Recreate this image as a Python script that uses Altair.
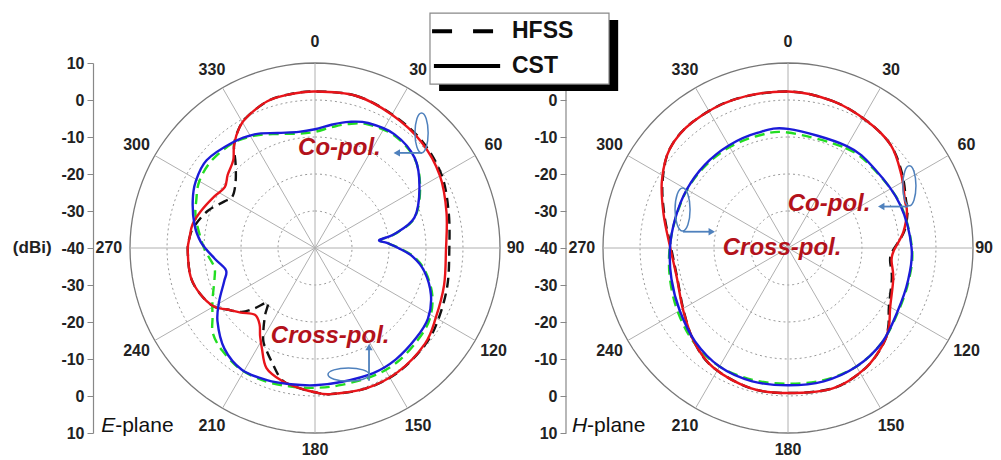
import altair as alt
import pandas as pd

FONT = "Liberation Sans"

# ---------------- E-plane (angle in degrees, gain in dBi) ----------------
e_hfss_co_ang = [0, 15, 30, 45, 60, 75, 91, 106, 120, 131, 146, 160, 174, 180, 187, 194, 201, 205, 209, 213, 217, 221, 225, 229, 235, 240, 248, 257, 269, 275, 280, 289, 297, 302, 310, 317, 322, 328, 333, 342, 350]
e_hfss_co_db = [2.3, 2.6, 1.7, 0.9, -0.5, -2.6, -3.7, -2.8, -1.5, -0.4, 0.4, 0.4, -0.3, -1.0, -2.0, -3.2, -7.2, -9.2, -11.2, -14.5, -17.7, -20.5, -17.0, -13.7, -11.0, -8.4, -6.6, -5.5, -5.6, -6.0, -6.8, -9.3, -12.4, -13.7, -12.0, -8.5, -4.5, -1.5, 0.0, 1.7, 2.1]

e_cst_co_ang = [0, 15, 30, 45, 60, 75, 91, 106, 120, 131, 146, 160, 174, 180, 187, 194, 202, 208, 212, 216, 222, 229, 235, 240, 248, 257, 269, 275, 281, 288, 297, 304, 310, 317, 322, 328, 333, 342, 350]
e_cst_co_db = [2.3, 2.6, 1.6, 0.6, -1.0, -3.2, -4.6, -3.7, -2.3, -0.6, 0.3, 0.4, -0.3, -1.0, -2.0, -3.0, -5.0, -9.4, -12.0, -14.5, -15.7, -13.4, -11.0, -8.4, -6.6, -5.5, -5.6, -6.0, -6.3, -7.6, -9.4, -10.6, -9.2, -7.6, -4.5, -1.5, 0.0, 1.7, 2.1]

e_hfss_x_ang = [0, 8, 15, 23, 35, 48, 60, 73, 80, 83, 86, 90, 95, 102, 112, 122, 132, 144, 155, 169, 180, 190, 200, 211, 222, 230, 236, 243, 253, 259, 266, 272, 284, 292, 300, 310, 322, 332, 342, 352]
e_hfss_x_db = [-8.6, -7.0, -5.3, -3.7, -2.8, -3.8, -7.2, -11.8, -18.0, -22.3, -20.5, -17.3, -13.2, -9.5, -5.8, -3.5, -2.7, -2.0, -2.0, -2.3, -2.2, -2.0, -1.6, -1.5, -2.6, -4.0, -6.6, -8.9, -11.6, -12.3, -11.0, -9.6, -6.8, -5.4, -3.9, -3.4, -4.0, -5.6, -7.6, -8.8]

e_cst_x_ang = [0, 8, 15, 23, 35, 48, 60, 73, 80, 83, 86, 90, 95, 102, 112, 122, 132, 144, 155, 169, 180, 190, 200, 211, 222, 233, 241, 250, 256, 264, 273, 281, 291, 299, 309, 322, 332, 342, 352]
e_cst_x_db = [-7.9, -6.3, -4.7, -3.3, -2.5, -3.7, -7.4, -11.9, -18.2, -22.5, -20.5, -17.5, -13.5, -9.8, -6.2, -4.0, -3.4, -2.8, -2.7, -3.1, -2.9, -2.6, -2.0, -1.6, -3.4, -7.0, -10.4, -13.9, -15.2, -12.7, -9.1, -6.8, -4.6, -3.1, -2.3, -3.8, -5.2, -7.3, -8.3]

# ---------------- H-plane ----------------
h_co_ang = [0, 17, 32, 45, 57, 68, 73, 82, 92, 97, 106, 120, 128, 135, 147, 162, 180, 195, 212, 225, 239, 255, 270, 285, 298, 310, 323, 340]
h_hfss_co_db = [2.3, 1.5, 0.4, -0.7, -3.2, -5.6, -6.2, -8.3, -11.8, -12.2, -10.8, -8.5, -5.6, -3.5, -1.4, -0.2, -0.8, -0.8, -1.9, -4.1, -7.1, -9.0, -8.4, -5.4, -1.6, 1.7, 2.7, 2.7]
h_cst_co_db = [2.3, 1.5, 0.4, -0.7, -3.5, -5.9, -6.4, -8.5, -11.5, -11.8, -10.4, -8.1, -5.4, -3.5, -1.4, -0.2, -0.8, -0.8, -1.9, -4.1, -7.0, -8.9, -8.2, -5.2, -1.4, 1.7, 2.7, 2.7]

h_x_ang = [0, 30, 48, 69, 90, 105, 120, 135, 150, 165, 180, 195, 210, 225, 240, 255, 270, 285, 300, 315, 330, 345]
h_hfss_x_db = [-8.8, -8.8, -8.5, -7.4, -6.5, -6.2, -5.6, -4.0, -3.0, -3.0, -3.3, -3.1, -3.0, -4.0, -5.6, -7.0, -8.0, -8.6, -8.5, -8.5, -8.5, -8.6]
h_cst_x_db = [-7.8, -8.2, -8.3, -7.5, -6.6, -6.4, -5.8, -4.0, -3.0, -2.7, -2.9, -2.7, -3.0, -4.4, -6.2, -7.4, -8.1, -8.5, -8.4, -8.2, -8.0, -7.8]

# ---------------- axes ----------------
angle_ticks = [0, 30, 60, 90, 120, 150, 180, 210, 240, 270, 300, 330]
spoke_angles = [0, 30, 60, 90, 120, 150]
ring_levels = [-30, -20, -10, 0]
outer_level = 10
r_min = -40
radial_ticks = [-50, -40, -30, -20, -10, 0, 10, 20, 30, 40, 50]

RED = "#e8141a"
BLUE = "#1b1bd8"
GREEN = "#22dd22"
BLACK = "#111111"
ANN = "#b3121b"
ARROW = "#4f81bd"
AXIS_GREY = "#888"

SIZE = 370
RMAX = outer_level - r_min  # 50
LABEL_R = 55.7
LABEL_R_180 = 54.6
AXIS_OFFSET = 37

xscale = alt.Scale(domain=[-RMAX, RMAX], nice=False, zero=False)
yscale = alt.Scale(domain=[-RMAX, RMAX], nice=False, zero=False)


def make_axis(values, domain=True):
    return alt.Axis(values=values, labelExpr="abs(datum.value) - 40", offset=AXIS_OFFSET,
                    tickSize=6, tickColor=AXIS_GREY, domain=domain, domainColor=AXIS_GREY,
                    domainWidth=1.2, labelFont=FONT, labelFontSize=16, labelFontWeight="bold",
                    labelColor="#222", labelPadding=3, grid=False, title=None)


left_axis = make_axis(radial_ticks)
# right panel: the top of its axis lies under the legend box, so its line is a mark
right_axis = make_axis(radial_ticks[:-1], domain=False)
CUR = {"axis": left_axis}


def X(f="x"):
    return alt.X(f"{f}:Q", scale=xscale, axis=None)


def Y(f="y"):
    return alt.Y(f"{f}:Q", scale=yscale, axis=CUR["axis"])


polar = dict(
    x=f"(datum.db - ({r_min})) * sin(datum.ang * PI / 180)",
    y=f"(datum.db - ({r_min})) * cos(datum.ang * PI / 180)",
)


def curve(ang, db, color, dash=None):
    df = pd.DataFrame({"ang": ang, "db": db})
    kw = dict(color=color, strokeWidth=2.4, interpolate="cardinal-closed")
    if dash:
        kw["strokeDash"] = dash
    return alt.Chart(df).transform_calculate(**polar).mark_line(**kw).encode(
        x=X(), y=Y(), order="ang:Q")


def grid_layers(r90):
    rows = [(lv, a) for lv in ring_levels + [outer_level] for a in range(0, 361, 3)]
    rings = pd.DataFrame(rows, columns=["db", "ang"])
    inner = alt.Chart(rings[rings.db != outer_level]).transform_calculate(**polar).mark_line(
        color="#999", strokeWidth=1, strokeDash=[2, 3]).encode(
        x=X(), y=Y(), detail="db:N", order="ang:Q")
    outer = alt.Chart(rings[rings.db == outer_level]).transform_calculate(**polar).mark_line(
        color="#777", strokeWidth=1.3).encode(x=X(), y=Y(), order="ang:Q")
    spokes = alt.Chart(pd.DataFrame({"ang": spoke_angles})).transform_calculate(
        x=f"{RMAX} * sin(datum.ang * PI / 180)",
        y=f"{RMAX} * cos(datum.ang * PI / 180)",
        x2=f"-{RMAX} * sin(datum.ang * PI / 180)",
        y2=f"-{RMAX} * cos(datum.ang * PI / 180)",
    ).mark_rule(color="#b0b0b0", strokeWidth=1).encode(
        x=X(), y=Y(), x2="x2:Q", y2="y2:Q")
    labels = alt.Chart(pd.DataFrame({"ang": angle_ticks})).transform_calculate(
        lr=f"datum.ang == 90 ? {r90} : (datum.ang == 180 ? {LABEL_R_180} : {LABEL_R})",
        x="datum.lr * sin(datum.ang * PI / 180)",
        y="datum.lr * cos(datum.ang * PI / 180)",
        t="toString(datum.ang)",
    ).mark_text(font=FONT, fontSize=16, fontWeight="bold", color="#222",
                align="center", baseline="middle").encode(x=X(), y=Y(), text="t:N")
    return [inner, outer, spokes, labels]


def text_at(x, y, s, **kw):
    base = dict(font=FONT, baseline="middle")
    base.update(kw)
    return alt.Chart(pd.DataFrame({"x": [x], "y": [y], "t": [s]})).mark_text(**base).encode(
        x=X(), y=Y(), text="t:N")


def ellipse(x, y, size, vertical, ratio):
    if vertical:
        path = f"M0,-1 A{ratio},1 0 1,1 0,1 A{ratio},1 0 1,1 0,-1 Z"
    else:
        path = f"M-1,0 A1,{ratio} 0 1,1 1,0 A1,{ratio} 0 1,1 -1,0 Z"
    return alt.Chart(pd.DataFrame({"x": [x], "y": [y]})).mark_point(
        shape=path, size=size, filled=False, stroke=ARROW, strokeWidth=1.5, opacity=1).encode(
        x=X(), y=Y())


def arrow(x1, y1, x2, y2, head):
    shaft = alt.Chart(pd.DataFrame({"x": [x1], "y": [y1], "x2": [x2], "y2": [y2]})).mark_rule(
        color=ARROW, strokeWidth=1.8).encode(x=X(), y=Y(), x2="x2:Q", y2="y2:Q")
    tip = alt.Chart(pd.DataFrame({"x": [x2], "y": [y2]})).mark_point(
        shape=head, size=55, filled=True, color=ARROW, opacity=1).encode(x=X(), y=Y())
    return [shaft, tip]


def plane_label(x_letter, x_rest, letter):
    return [
        text_at(x_letter, -48.1, letter, fontSize=21, fontStyle="italic", align="left", color="#111"),
        text_at(x_rest, -48.1, "-plane", fontSize=21, align="left", color="#111"),
    ]


ann_style = dict(fontSize=24, fontWeight="bold", fontStyle="italic", color=ANN, align="center")

# ---------------- left: E-plane ----------------
CUR["axis"] = left_axis
left_layers = grid_layers(54.2) + [
    curve(e_hfss_co_ang, e_hfss_co_db, BLACK, [10, 6]),
    curve(e_hfss_x_ang, e_hfss_x_db, GREEN, [10, 6]),
    curve(e_cst_co_ang, e_cst_co_db, RED),
    curve(e_cst_x_ang, e_cst_x_db, BLUE),
    text_at(6.6, 27.0, "Co-pol.", **ann_style),
    text_at(4.1, -23.8, "Cross-pol.", **ann_style),
    ellipse(28.8, 31.1, 1600, True, 0.33),
    ellipse(9.05, -34.2, 1681, False, 0.32),
    text_at(-71.2, 0, "(dBi)", fontSize=17, fontWeight="bold", align="right", color="#222"),
] + arrow(28.9, 25.7, 22.1, 25.7, "triangle-left") \
  + arrow(14.6, -35.9, 14.6, -26.8, "triangle-up") \
  + plane_label(-57.8, -54.0, "E")

left = alt.layer(*left_layers).properties(width=SIZE, height=SIZE)

# ---------------- right: H-plane ----------------
CUR["axis"] = right_axis
axis_x = -RMAX - AXIS_OFFSET * (2 * RMAX) / SIZE
axis_line = alt.Chart(pd.DataFrame({"x": [axis_x], "y": [-RMAX], "y2": [RMAX]})).mark_rule(
    color=AXIS_GREY, strokeWidth=1.2).encode(x=X(), y=Y(), y2="y2:Q")

leg_box = pd.DataFrame({"x": [-96.76], "x2": [-48.38], "y": [63.5], "y2": [44.3]})
leg_shadow = pd.DataFrame({"x": [-94.3], "x2": [-45.9], "y": [61.6], "y2": [42.4]})
legend_layers = [
    alt.Chart(leg_shadow).mark_rect(color="#000").encode(
        x=X(), y=Y(), x2="x2:Q", y2="y2:Q"),
    alt.Chart(leg_box).mark_rect(fill="white", stroke="#888", strokeWidth=1.2).encode(
        x=X(), y=Y(), x2="x2:Q", y2="y2:Q"),
    alt.Chart(pd.DataFrame({"x": [-96.2], "x2": [-79.7], "y": [58.6]})).mark_rule(
        color="#000", strokeWidth=4, strokeDash=[20, 21]).encode(x=X(), y=Y(), x2="x2:Q"),
    alt.Chart(pd.DataFrame({"x": [-95.7], "x2": [-77.8], "y": [49.2]})).mark_rule(
        color="#000", strokeWidth=4).encode(x=X(), y=Y(), x2="x2:Q"),
    text_at(-74.6, 58.6, "HFSS", fontSize=23, fontWeight="bold", align="left", color="#111"),
    text_at(-74.6, 49.2, "CST", fontSize=23, fontWeight="bold", align="left", color="#111"),
]

right_layers = [axis_line] + grid_layers(53.0) + [
    curve(h_co_ang, h_hfss_co_db, BLACK, [10, 6]),
    curve(h_x_ang, h_hfss_x_db, GREEN, [10, 6]),
    curve(h_co_ang, h_cst_co_db, RED),
    curve(h_x_ang, h_cst_x_db, BLUE),
    text_at(11.1, 11.9, "Co-pol.", **ann_style),
    text_at(-1.6, 0.1, "Cross-pol.", **ann_style),
    ellipse(32.8, 16.8, 1600, True, 0.33),
    ellipse(-28.5, 10.4, 1849, True, 0.35),
] + arrow(32.4, 11.2, 25.2, 11.2, "triangle-left") \
  + arrow(-28.4, 4.4, -20.6, 4.4, "triangle-right") \
  + plane_label(-58.4, -54.3, "H") + legend_layers

right = alt.layer(*right_layers).properties(width=SIZE, height=SIZE)

chart = alt.hconcat(left, right, spacing=103, bounds="flush").properties(
    padding={"left": 4, "top": 4, "right": 0, "bottom": 0}
).configure_view(stroke=None)

chart.save("out.html", embed_options={"renderer": "svg", "actions": False})
